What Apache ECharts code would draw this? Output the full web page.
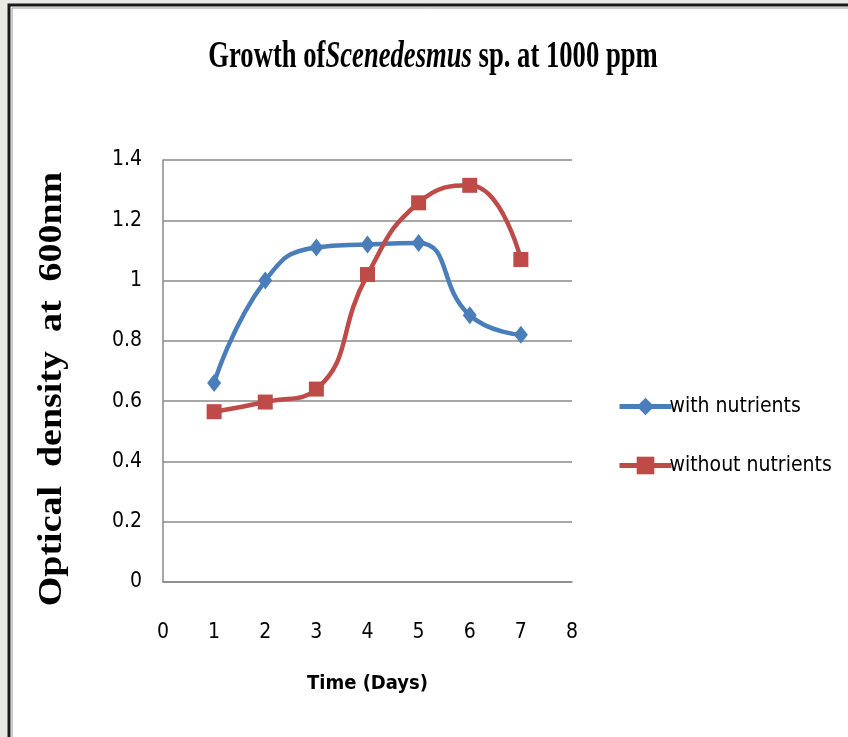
<!DOCTYPE html>
<html><head><meta charset="utf-8">
<script src="https://cdn.jsdelivr.net/npm/echarts@6/dist/echarts.min.js"></script>
<style>html,body{margin:0;padding:0;background:#e9e9e5;}#c{width:848px;height:737px;}</style>
</head><body><div id="c"></div>
<script>
var days = [1, 2, 3, 4, 5, 6, 7];
var withNutrients = [0.66, 1.00, 1.11, 1.12, 1.125, 0.885, 0.82];
var withoutNutrients = [0.565, 0.597, 0.64, 1.02, 1.258, 1.316, 1.07];
var seriesNames = ['with nutrients', 'without nutrients'];
var xTicks = {min: 0, max: 8, interval: 1};
var yTicks = {min: 0, max: 1.4, interval: 0.2};

function pairs(xs, ys){ return xs.map(function(x,i){ return [x, ys[i]]; }); }
var narrow = "'Liberation Sans Narrow','DejaVu Sans Condensed',sans-serif";
var serif = "'Liberation Serif',serif";
var chart = echarts.init(document.getElementById('c'));
chart.setOption({
  backgroundColor: '#e9e9e5',
  animation: false,
  graphic: [
    {type:'rect', z:-10, shape:{x:9,y:5,width:900,height:800}, style:{fill:'#ffffff', stroke:'#1a1a1a', lineWidth:3}},
    {type:'rect', z:-9, shape:{x:12,y:8,width:900,height:800}, style:{fill:'none', stroke:'#9a9a9a', lineWidth:1}},
    {type:'text', x: 433, y: 57, scaleX: 0.72,
     style: {text: '{a|Growth of}{b|Scenedesmus}{a| sp. at 1000 ppm}', align: 'center', verticalAlign: 'middle',
       rich: {
         a: {fontFamily: serif, fontWeight: 'bold', fontSize: 37, fill: '#000'},
         b: {fontFamily: serif, fontWeight: 'bold', fontStyle: 'italic', fontSize: 37, fill: '#000'}
       }}},
    {type:'text', x: 52, y: 389, rotation: Math.PI/2, scaleX: 1.15,
     style: {text: 'Optical  density  at  600nm', align: 'center', verticalAlign: 'middle',
       fontFamily: serif, fontWeight: 'bold', fontSize: 33, fill: '#000'}}
  ],
  legend: {
    orient: 'vertical', left: 612, top: 391, itemGap: 38,
    itemWidth: 52, itemHeight: 22,
    lineStyle: {width: 5},
    textStyle: {fontFamily: narrow, fontSize: 21, color: '#000', padding: [0,0,0,-7]},
    data: seriesNames
  },
  grid: {left: 163, right: 276, top: 160, bottom: 155},
  xAxis: {
    type: 'value', min: xTicks.min, max: xTicks.max, interval: xTicks.interval,
    name: 'Time (Days)', nameLocation: 'middle', nameGap: 92,
    nameTextStyle: {fontFamily: narrow, fontWeight: 'bold', fontSize: 20, color: '#000'},
    axisLine: {show: true, lineStyle: {color: '#8a8a8a', width: 1.5}},
    axisTick: {show: false},
    splitLine: {show: false},
    axisLabel: {fontFamily: narrow, fontSize: 21, color: '#000', margin: 40}
  },
  yAxis: {
    type: 'value', min: yTicks.min, max: yTicks.max, interval: yTicks.interval,
    axisLine: {show: true, lineStyle: {color: '#8a8a8a', width: 1.5}},
    axisTick: {show: false},
    splitLine: {show: true, lineStyle: {color: '#8a8a8a', width: 1.5}},
    axisLabel: {fontFamily: narrow, fontSize: 21, color: '#000', margin: 21}
  },
  series: [
    {name: seriesNames[0], type: 'line', smooth: 0.5, data: pairs(days, withNutrients),
     symbol: 'diamond', symbolSize: [14, 18], color: '#4a7ebb',
     lineStyle: {width: 4.5, color: '#4a7ebb'}, itemStyle: {color: '#4a7ebb'}},
    {name: seriesNames[1], type: 'line', smooth: 0.5, data: pairs(days, withoutNutrients),
     symbol: 'rect', symbolSize: 15, color: '#be4b48',
     lineStyle: {width: 4.5, color: '#be4b48'}, itemStyle: {color: '#be4b48'}}
  ]
});
</script></body></html>
